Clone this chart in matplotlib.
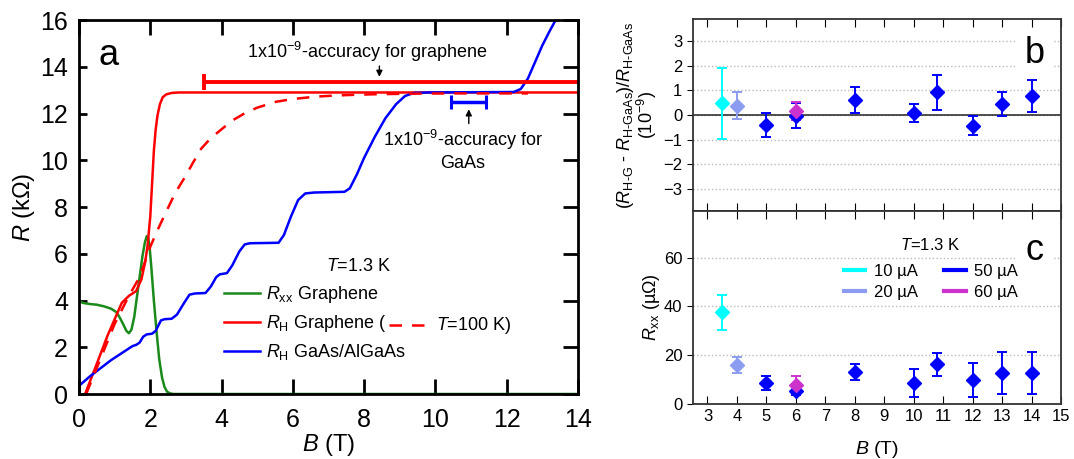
import numpy as np
import matplotlib
matplotlib.use("Agg")
import matplotlib.pyplot as plt
from matplotlib.lines import Line2D

plt.rcParams['font.family'] = ['Liberation Sans', 'DejaVu Sans']
plt.rcParams['mathtext.fontset'] = 'custom'
plt.rcParams['mathtext.rm'] = 'Liberation Sans'
plt.rcParams['mathtext.it'] = 'Liberation Sans:italic'
plt.rcParams['mathtext.bf'] = 'Liberation Sans:bold'

# ---- panel a: curvas ----
b_rxx = [0, 0.1, 0.3, 0.5, 0.7, 0.9, 1.05, 1.15, 1.25, 1.33, 1.4, 1.47, 1.55, 1.62,
         1.7, 1.78, 1.85, 1.9, 1.94, 1.98, 2.03, 2.1, 2.18, 2.25, 2.33, 2.4, 2.47,
         2.55, 2.65, 2.8, 14]
r_rxx = [4.0, 3.9, 3.85, 3.82, 3.75, 3.65, 3.5, 3.25, 2.95, 2.7, 2.6, 2.75, 3.3, 4.1,
         5.0, 5.9, 6.5, 6.75, 6.7, 6.3, 5.4, 4.0, 2.6, 1.5, 0.7, 0.3, 0.1,
         0.03, 0.0, 0.0, 0.0]

b_rh = [0.17, 0.5, 0.8, 1.0, 1.2, 1.4, 1.6, 1.75, 1.85, 1.92, 2.0, 2.05, 2.1, 2.15,
        2.2, 2.27, 2.35, 2.45, 2.6, 2.8, 14]
r_rh = [0, 1.3, 2.5, 3.2, 3.9, 4.2, 4.4, 4.9, 5.6, 6.3, 7.6, 9.0, 10.4, 11.3,
        11.9, 12.4, 12.7, 12.82, 12.88, 12.9, 12.9]

b_rh100 = [0.2, 0.6, 1.0, 1.4, 1.7, 2.0, 2.2, 2.43, 2.7, 2.98, 3.2, 3.43, 3.7, 3.98,
           4.3, 4.64, 5.0, 5.52, 6.0, 6.63, 7.2, 7.73, 8.5, 9.5, 10.5, 11.5, 12.6]
r_rh100 = [0, 1.5, 3.0, 4.2, 5.0, 6.3, 7.0, 7.75, 8.6, 9.3, 9.9, 10.5, 10.95, 11.3,
           11.7, 12.0, 12.25, 12.5, 12.62, 12.72, 12.77, 12.8, 12.83, 12.85, 12.86,
           12.86, 12.86]

b_gaas = [0, 0.3, 0.6, 0.9, 1.2, 1.4, 1.5, 1.6, 1.7, 1.8, 1.9, 2.05, 2.15, 2.3, 2.4,
          2.6, 2.75, 2.95, 3.1, 3.25, 3.55, 3.7, 3.85, 3.95, 4.15, 4.3, 4.5, 4.65,
          4.8, 5.6, 5.75, 5.95, 6.15, 6.35, 6.6, 7.45, 7.6, 7.8, 8.0, 8.3, 8.6, 8.9,
          9.15, 9.4, 9.8, 12.2, 12.4, 12.6, 12.8, 13.0, 13.2, 13.45]
r_gaas = [0.35, 0.75, 1.1, 1.45, 1.75, 1.95, 2.05, 2.1, 2.2, 2.45, 2.55, 2.58, 2.7,
          3.15, 3.2, 3.22, 3.4, 3.9, 4.25, 4.3, 4.32, 4.6, 5.0, 5.12, 5.17, 5.5, 6.1,
          6.4, 6.45, 6.47, 6.8, 7.6, 8.3, 8.58, 8.62, 8.65, 8.8, 9.4, 10.1, 11.0,
          11.8, 12.4, 12.75, 12.88, 12.9, 12.92, 13.05, 13.5, 14.2, 14.9, 15.5, 16.2]

# barras de exactitud (centro, semiancho, R)
acc_graf = (9.0, 5.5, 13.35)
acc_gaas = (10.93, 0.48, 12.5)

# ---- panels b y c ----
corrientes = ['10 µA', '20 µA', '50 µA', '60 µA']
colores = ['#00ffff', '#8c9cf0', '#0000ff', '#cc33cc']

b_pts = {
    '10 µA': [3.5],
    '20 µA': [4.0],
    '50 µA': [5, 6, 8, 10, 10.8, 12, 13, 14],
    '60 µA': [6],
}
dev_vals = {
    '10 µA': [0.47],
    '20 µA': [0.38],
    '50 µA': [-0.4, -0.02, 0.62, 0.08, 0.93, -0.43, 0.45, 0.76],
    '60 µA': [0.15],
}
dev_err = {
    '10 µA': [1.45],
    '20 µA': [0.55],
    '50 µA': [0.47, 0.5, 0.53, 0.37, 0.71, 0.38, 0.5, 0.65],
    '60 µA': [0.37],
}
rxx_vals = {
    '10 µA': [37.5],
    '20 µA': [16.0],
    '50 µA': [8.6, 5.2, 13.1, 8.6, 16.2, 9.7, 12.7, 12.7],
    '60 µA': [7.9],
}
rxx_err = {
    '10 µA': [7.1],
    '20 µA': [3.4],
    '50 µA': [2.7, 1.7, 3.4, 5.6, 4.6, 6.9, 8.6, 8.5],
    '60 µA': [3.4],
}

fig = plt.figure(figsize=(10.74, 4.59), dpi=100)
ax = fig.add_axes([0.0736, 0.1416, 0.4644, 0.8148])
axb = fig.add_axes([0.645, 0.540, 0.343, 0.4186])
axc = fig.add_axes([0.645, 0.1198, 0.343, 0.4202], sharex=axb)

# ---------------- panel a ----------------
verde, rojo, azul = '#1a8a1a', '#ff0000', '#0000ff'
ax.plot(b_rxx, r_rxx, color=verde, lw=1.8, label=r'$R_\mathrm{xx}$ Graphene')
ax.plot(b_rh, r_rh, color=rojo, lw=1.8, label=r'$R_\mathrm{H}$ Graphene (')
ax.plot(b_gaas, r_gaas, color=azul, lw=1.8, label=r'$R_\mathrm{H}$ GaAs/AlGaAs')
ax.plot(b_rh100, r_rh100, color=rojo, lw=1.8, dashes=(5, 4))

ax.errorbar(acc_graf[0], acc_graf[2], xerr=acc_graf[1], color=rojo, lw=2.8,
            capsize=6, capthick=2.8)
ax.errorbar(acc_gaas[0], acc_gaas[2], xerr=acc_gaas[1], color=azul, lw=2.5,
            capsize=5, capthick=2.2)

ax.annotate('', xy=(8.43, 13.45), xytext=(8.43, 14.15),
            arrowprops=dict(arrowstyle='-|>', color='k', lw=1, mutation_scale=9))
ax.annotate('', xy=(10.94, 12.3), xytext=(10.94, 11.45),
            arrowprops=dict(arrowstyle='-|>', color='k', lw=1, mutation_scale=9))
ax.text(8.1, 14.65, r'1x10$^{-9}$-accuracy for graphene', fontsize=13,
        ha='center', va='center')
ax.text(10.78, 10.45, '1x10$^{-9}$-accuracy for\nGaAs', fontsize=13,
        ha='center', va='center', multialignment='center', linespacing=1.25)
ax.text(7.85, 5.45, r'$T$=1.3 K', fontsize=13, ha='center', va='center')
ax.text(0.83, 14.5, 'a', fontsize=26, ha='center', va='center')

ax.set_xlim(0, 14)
ax.set_ylim(0, 16)
ax.set_xticks(np.arange(0, 15, 2))
ax.set_yticks(np.arange(0, 17, 2))
ax.tick_params(direction='in', length=11, width=2, labelsize=18, top=True, right=True)
ax.tick_params(axis='x', pad=10)
ax.tick_params(axis='y', pad=8)
# los ticks de la izquierda son mas cortos
for t in ax.yaxis.get_major_ticks():
    t.tick1line.set_markersize(6)
for s in ax.spines.values():
    s.set_linewidth(2)
ax.set_xlabel(r'$B$ (T)', fontsize=17, labelpad=0)
ax.set_ylabel(r'$R$ (kΩ)', fontsize=17, labelpad=2)

leg = ax.legend(loc='lower left', bbox_to_anchor=(0.29, 0.085), frameon=False,
                fontsize=13, handlelength=2.0, handletextpad=0.35, labelspacing=0.45,
                borderpad=0, borderaxespad=0)

fig.canvas.draw()
bb = leg.get_texts()[1].get_window_extent().transformed(ax.transAxes.inverted())
yc = (bb.y0 + bb.y1) / 2 - 0.005
ax.add_line(Line2D([bb.x1 + 0.005, bb.x1 + 0.085], [yc, yc], transform=ax.transAxes,
                   color=rojo, lw=1.8, dashes=(5, 4)))
ax.text(bb.x1 + 0.098, yc, r'$T$=100 K)', transform=ax.transAxes, fontsize=13,
        va='center', ha='left')

# ---------------- panels b y c ----------------
for nom, col in zip(corrientes, colores):
    axb.errorbar(b_pts[nom], dev_vals[nom], yerr=dev_err[nom], fmt='D', color=col,
                 ms=7.5, capsize=3.5, elinewidth=1.4, capthick=1.4)
    axc.errorbar(b_pts[nom], rxx_vals[nom], yerr=rxx_err[nom], fmt='D', color=col,
                 ms=7.5, capsize=3.5, elinewidth=1.4, capthick=1.4)

axb.axhline(0, color='#333333', lw=1.2, zorder=1)
for a in (axb, axc):
    a.grid(axis='y', ls=':', color='#bbbbbb', lw=1)
    a.set_axisbelow(True)
    for s in a.spines.values():
        s.set_linewidth(1.3)
        s.set_color('#333333')
    a.tick_params(axis='y', direction='out', length=4, labelsize=12, right=False)
    a.tick_params(axis='x', direction='in', length=6, top=True, labelsize=12)

axb.set_xlim(2.5, 15)
axb.set_xticks(np.arange(3, 16, 1))
axb.set_ylim(-3.9, 3.9)
axb.set_yticks([-3, -2, -1, 0, 1, 2, 3])
axb.tick_params(axis='x', labelbottom=False)
axb.set_ylabel(r'$(R_{\text{H-G}}$ - $R_{\text{H-GaAs}})/R_{\text{H-GaAs}}$' + '\n' + r'(10$^{-9}$)',
               fontsize=13, linespacing=0.95, labelpad=3)
axb.text(14.1, 2.5, 'b', fontsize=26, ha='center', va='center',
         bbox=dict(facecolor='white', edgecolor='none', pad=6))

axc.set_ylim(0, 79)
axc.set_yticks([0, 20, 40, 60])
axc.set_xlabel(r'$B$ (T)', fontsize=14, labelpad=11)
axc.set_ylabel(r'$R_\mathrm{xx}$ (µΩ)', fontsize=13, labelpad=1)
axc.text(14.1, 63, 'c', fontsize=26, ha='center', va='center',
         bbox=dict(facecolor='white', edgecolor='none', pad=6))
axc.text(10.55, 65.2, r'$T$=1.3 K', fontsize=12, ha='center', va='center')

handles = [Line2D([], [], color=c, lw=3) for c in colores]
axc.legend(handles, corrientes, ncol=2, loc='lower left', bbox_to_anchor=(0.41, 0.54),
           frameon=False, fontsize=12, handlelength=1.3, handletextpad=0.5,
           columnspacing=1.6, labelspacing=0.35, borderpad=0, borderaxespad=0)

fig.savefig('out.png', dpi=100)
